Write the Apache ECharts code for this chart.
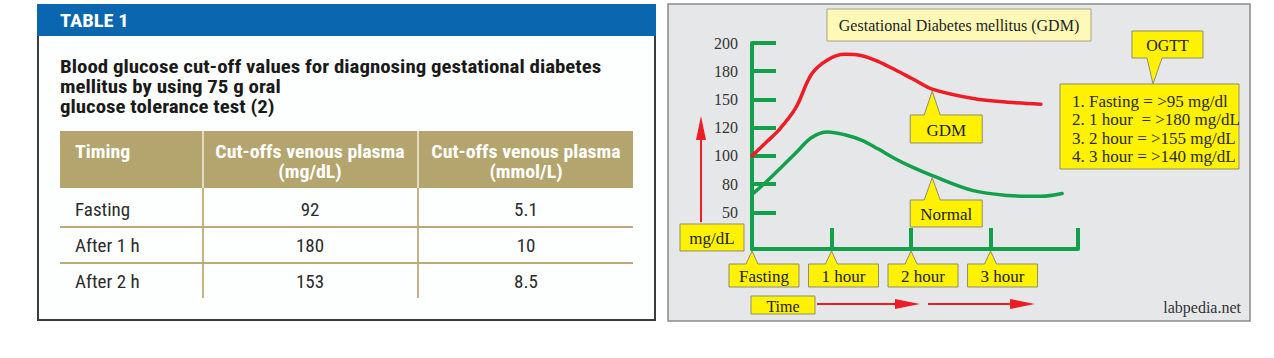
<!DOCTYPE html>
<html><head><meta charset="utf-8">
<script src="https://cdn.jsdelivr.net/npm/echarts@6/dist/echarts.min.js"></script>
<style>html,body{margin:0;padding:0;background:#fff}#c{width:1274px;height:358px}</style>
</head><body><div id="c"></div>
<script>
// ---------- data ----------
const tableTitle = 'TABLE 1';
const tableCaption = ['Blood glucose cut-off values for diagnosing gestational diabetes', 'mellitus by using 75 g oral', 'glucose tolerance test (2)'];
const tableHeaders = [['Timing'], ['Cut-offs venous plasma', '(mg/dL)'], ['Cut-offs venous plasma', '(mmol/L)']];
const tableTiming = ['Fasting', 'After 1 h', 'After 2 h'];
const tableMgdl = ['92', '180', '153'];
const tableMmol = ['5.1', '10', '8.5'];

const chartTitle = 'Gestational Diabetes mellitus (GDM)';
const yTickLabels = [50, 80, 100, 120, 150, 180, 200];
const xTickLabels = ['Fasting', '1 hour', '2 hour', '3 hour'];
const xTickMinutes = [0, 60, 120, 180];
const xAxisEndMinutes = 246;
const gdmMinutes = [0, 10, 20, 33, 45, 57, 70, 83, 95, 108, 121, 136, 167, 193, 218];
const gdmValues = [100, 109, 118, 141, 177, 188, 192, 191, 187, 181, 172, 161, 151, 147, 145];
const normalMinutes = [0, 10, 20, 33, 45, 57, 70, 83, 95, 108, 121, 136, 167, 193, 218, 234];
const normalValues = [69, 81, 90, 102, 113, 117, 115, 111, 105, 98, 92, 86, 73, 68, 67, 70];
const ogttTitle = 'OGTT';
const ogttCriteria = ['1. Fasting = >95 mg/dl', '2. 1 hour  = >180 mg/dL', '3. 2 hour = >155 mg/dL', '4. 3 hour = >140 mg/dL'];
const unitLabel = 'mg/dL';
const timeLabel = 'Time';
const seriesNames = ['GDM', 'Normal'];
const credit = 'labpedia.net';

// ---------- helpers ----------
// glucose value -> position on the (unevenly labelled) tick scale
function toIdx(v) {
  const t = yTickLabels;
  if (v <= t[1]) return (v - t[0]) / (t[1] - t[0]);
  for (let i = 1; i < t.length - 1; i++) {
    if (v <= t[i + 1]) return i + (v - t[i]) / (t[i + 1] - t[i]);
  }
  const n = t.length - 1;
  return n + (v - t[n]) / (t[n] - t[n - 1]);
}

const GREEN = '#12a04b', RED = '#ee1c24', YEL = '#fff200', YBORDER = '#8f8d6e';
const NARROW = '"Liberation Sans Narrow","Arial Narrow","Roboto Condensed","DejaVu Sans Condensed",sans-serif';
const SERIF = '"Liberation Serif","Times New Roman",serif';

const chart = echarts.init(document.getElementById('c'), null, { renderer: 'svg' });

chart.setOption({
  animation: false,
  backgroundColor: '#ffffff',
  grid: { left: 752, right: 196, top: 43, bottom: 109 },
  xAxis: {
    type: 'value', min: 0, max: xAxisEndMinutes,
    axisLine: { show: true, onZero: false, lineStyle: { color: GREEN, width: 4 } },
    axisTick: { show: true, inside: true, length: 21, lineStyle: { color: GREEN, width: 4 },
      customValues: xTickMinutes.slice(1).concat([xAxisEndMinutes]) },
    axisLabel: { show: false }, splitLine: { show: false }
  },
  yAxis: {
    type: 'value', min: -1.3, max: yTickLabels.length - 1,
    axisLine: { show: true, onZero: false, lineStyle: { color: GREEN, width: 4 } },
    axisTick: { show: true, inside: true, length: 24, lineStyle: { color: GREEN, width: 4 },
      customValues: yTickLabels.map((_, i) => i) },
    axisLabel: { customValues: yTickLabels.map((_, i) => i), formatter: v => String(yTickLabels[Math.round(v)]),
      fontFamily: SERIF, fontSize: 16, color: '#333', margin: 14 },
    splitLine: { show: false }
  },
  series: [
    { name: seriesNames[0], type: 'line', smooth: 0.35, showSymbol: false, clip: false, z: 3,
      lineStyle: { color: RED, width: 3.5, cap: 'round' },
      data: gdmMinutes.map((m, i) => [m, toIdx(gdmValues[i])]) },
    { name: seriesNames[1], type: 'line', smooth: 0.35, showSymbol: false, clip: false, z: 3,
      lineStyle: { color: GREEN, width: 3.5, cap: 'round' },
      data: normalMinutes.map((m, i) => [m, toIdx(normalValues[i])]) }
  ]
});

// ---------- decorations ----------
const els = [];
function txt(text, x, y, o, sx) {
  const el = { type: 'text', z: 50, x, y, style: Object.assign({ text, x: 0, y: 0, fill: '#333', fontFamily: SERIF, fontSize: 16, align: 'center', verticalAlign: 'middle' }, o || {}) };
  if (sx) { el.scaleX = sx; }
  els.push(el);
}
function rect(x, y, w, h, fill, stroke, lw, z) {
  els.push({ type: 'rect', z: z == null ? 40 : z, shape: { x, y, width: w, height: h }, style: { fill, stroke: stroke || null, lineWidth: lw || 0 } });
}
function line(x1, y1, x2, y2, stroke, lw, z) {
  els.push({ type: 'line', z: z == null ? 41 : z, shape: { x1, y1, x2, y2 }, style: { stroke, lineWidth: lw } });
}
function poly(points, fill, stroke, z) {
  els.push({ type: 'polygon', z: z == null ? 45 : z, shape: { points }, style: { fill, stroke: stroke || null, lineWidth: stroke ? 1 : 0 } });
}
// yellow callout with a pointer; side 'top' or 'bottom'
function callout(x, y, w, h, tipX, tipY, b1, b2, side, label, fs) {
  let pts;
  if (side === 'top') pts = [[x, y], [b1, y], [tipX, tipY], [b2, y], [x + w, y], [x + w, y + h], [x, y + h]];
  else pts = [[x, y], [x + w, y], [x + w, y + h], [b2, y + h], [tipX, tipY], [b1, y + h], [x, y + h]];
  poly(pts, YEL, YBORDER, 45);
  if (label) txt(label, x + w / 2, y + h / 2 + 1, { fontSize: fs || 16, fill: '#222' });
}

// Left: table panel
rect(38, 5, 617, 315, '#fdfefe', '#3c3c3c', 2, 1);
rect(37, 4, 619, 32, '#0a66ae', null, 0, 2);
txt(tableTitle, 60, 21, { fontFamily: NARROW, fontWeight: 'bold', fontSize: 19, fill: '#ffffff', align: 'left' }, 1.08);
tableCaption.forEach((s, i) => txt(s, 60, 66 + i * 20, { fontFamily: NARROW, fontWeight: 'bold', fontSize: 19, fill: '#1a1a1a', align: 'left' }, 1.1));
rect(60, 131, 573, 57, '#b4a56e', null, 0, 3);
const colX = [75, 310, 526];
tableHeaders.forEach((lines, i) => lines.forEach((s, j) => txt(s, colX[i], 152 + j * 20, { fontFamily: NARROW, fontWeight: 'bold', fontSize: 19, fill: '#ffffff', align: i === 0 ? 'left' : 'center' }, 1.045)));
[203, 418].forEach(x => { line(x, 131, x, 188, '#e4dcc2', 2, 4); line(x, 188, x, 298, '#c3b485', 2, 4); });
[227, 263].forEach(y => line(60, y, 633, y, '#b9aa78', 2, 4));
tableTiming.forEach((s, i) => {
  const y = 209 + i * 36;
  txt(s, colX[0], y, { fontFamily: NARROW, fontSize: 19, fill: '#2b2b2b', align: 'left' });
  txt(tableMgdl[i], colX[1], y, { fontFamily: NARROW, fontSize: 19, fill: '#2b2b2b' });
  txt(tableMmol[i], colX[2], y, { fontFamily: NARROW, fontSize: 19, fill: '#2b2b2b' });
});

// Right: diagram panel
rect(668, 4, 582, 317, '#e6e7e8', '#8a8a8a', 1.5, -10);
rect(827, 9, 264, 32, '#fff9b8', '#a5a283', 1, 40);
txt(chartTitle, 959, 25, { fontSize: 16, fill: '#222' });

// OGTT
callout(1132, 31, 71, 27, 1153, 84, 1147, 1162, 'bottom', ogttTitle, 16);
rect(1060, 84, 179, 85, YEL, YBORDER, 1, 46);
ogttCriteria.forEach((s, i) => txt(s, 1072, 101 + i * 18.5, { align: 'left', fontSize: 17, fill: '#2a2a2a' }));

// series callouts at the curves
const tipG = chart.convertToPixel({ seriesIndex: 0 }, [gdmMinutes[11], toIdx(gdmValues[11])]);
const tipN = chart.convertToPixel({ seriesIndex: 1 }, [normalMinutes[11], toIdx(normalValues[11])]);
callout(tipG[0] - 22, 115, 72, 28, tipG[0], tipG[1] + 2, tipG[0] - 8, tipG[0] + 8, 'top', seriesNames[0], 17);
callout(tipN[0] - 22, 200, 72, 27, tipN[0], tipN[1] + 2, tipN[0] - 8, tipN[0] + 8, 'top', seriesNames[1], 17);

// time tick callouts
const axisBottom = chart.convertToPixel({ yAxisIndex: 0 }, -1.3);
xTickLabels.forEach((s, i) => {
  const tx = chart.convertToPixel({ xAxisIndex: 0 }, xTickMinutes[i]);
  callout(tx - 23, 264, 70, 23, tx, axisBottom + 2, tx - 6, tx + 6, 'top', s, 17);
});

// unit + arrow
rect(680, 224, 64, 27, YEL, YBORDER, 1, 46);
txt(unitLabel, 712, 238, { fontSize: 17, fill: '#222' });
line(701, 222, 701, 136, RED, 2, 44);
poly([[696, 140], [701, 116], [706, 140]], RED, null, 44);

// time + arrows
rect(751, 296, 64, 18, YEL, YBORDER, 1, 46);
txt(timeLabel, 783, 306, { fontSize: 16, fill: '#222' });
line(817, 304, 898, 304, RED, 2, 44);
poly([[895, 299], [920, 304], [895, 309]], RED, null, 44);
line(928, 304, 1012, 304, RED, 2, 44);
poly([[1010, 299], [1035, 304], [1010, 309]], RED, null, 44);

txt(credit, 1241, 307, { align: 'right', fontSize: 16, fill: '#333' });

chart.setOption({ graphic: { elements: els } });
</script></body></html>
